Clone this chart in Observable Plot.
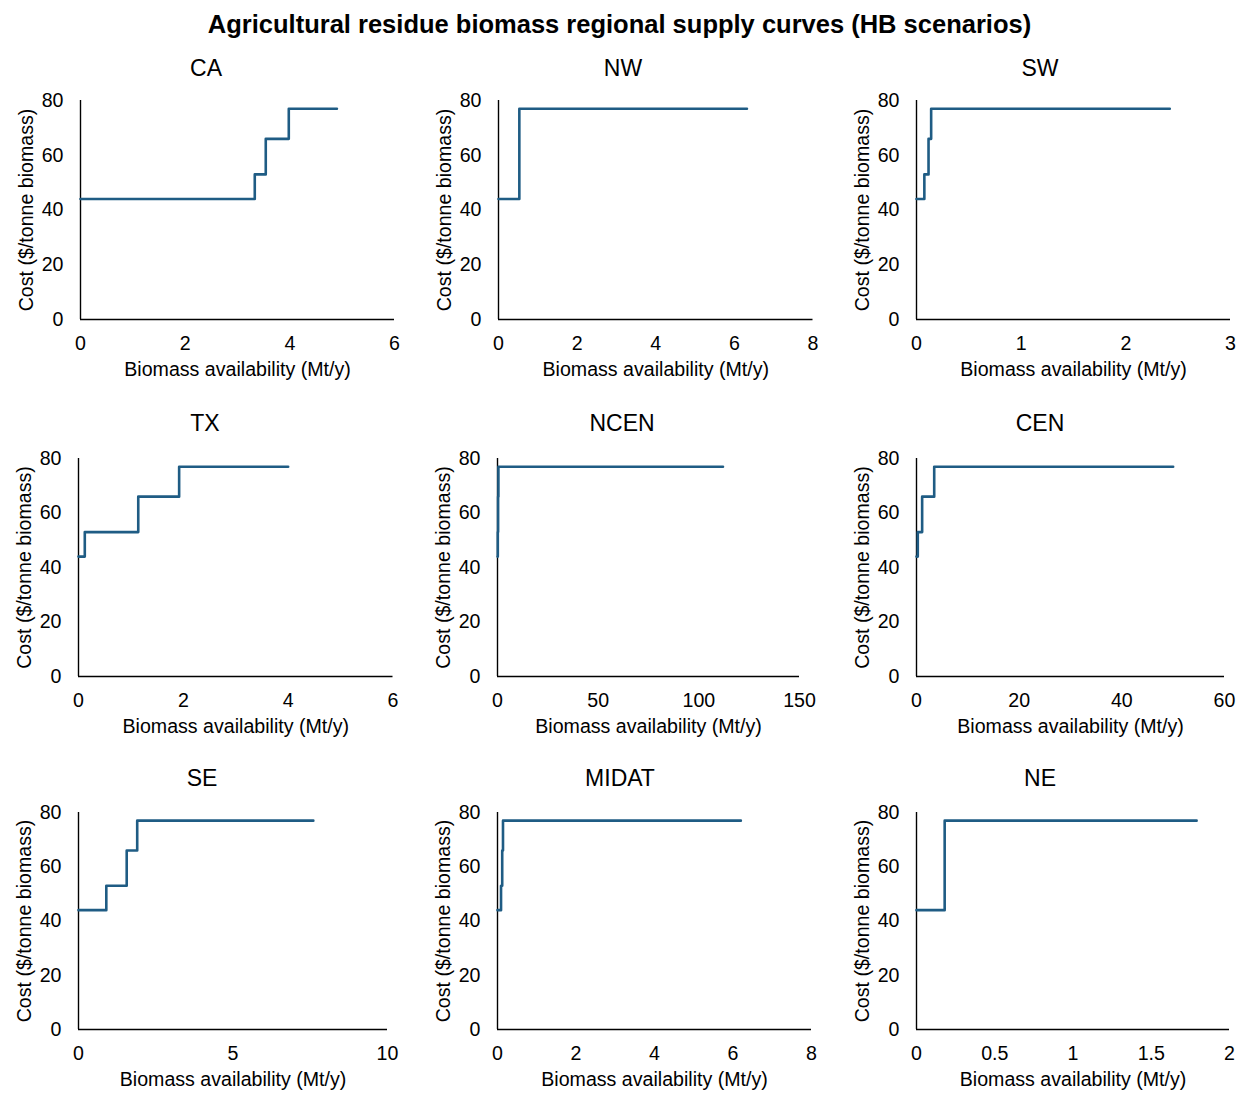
<!DOCTYPE html>
<html>
<head>
<meta charset="utf-8">
<script src="https://cdn.jsdelivr.net/npm/d3@7"></script>
<script src="https://cdn.jsdelivr.net/npm/@observablehq/plot@0.6"></script>
<style>
  body { margin: 0; background: #fff; }
  #page {
    position: relative; width: 1239px; height: 1094px; overflow: hidden; background: #fff;
    font-family: "Liberation Sans", Arial, Helvetica, sans-serif; color: #000;
  }
  .main-title {
    position: absolute; left: 0; width: 1239px; top: 25px; transform: translateY(-50%);
    text-align: center; font-weight: bold; font-size: 25.5px; line-height: 1;
  }
  .panel-title {
    position: absolute; font-size: 23px; line-height: 1; white-space: nowrap;
    transform: translate(-50%, -50%);
  }
  .panel { position: absolute; }
  .panel svg { overflow: visible; max-width: none !important; }
</style>
</head>
<body>
<div id="page">
  <div class="main-title">Agricultural residue biomass regional supply curves (HB scenarios)</div>
</div>
<script>
// Regions, in reading order of the 3 × 3 grid
const regions = ["CA", "NW", "SW", "TX", "NCEN", "CEN", "SE", "MIDAT", "NE"];

// Cumulative biomass availability (Mt/y) at the start of each cost step, plus the curve end
const availCA    = [0, 3.33, 3.54, 3.98, 4.9];
const availNW    = [0, 0.53, 6.32];
const availSW    = [0, 0.075, 0.115, 0.14, 2.42];
const availTX    = [0, 0.12, 1.14, 1.92, 4.0];
const availNCEN  = [0, 0.15, 0.3, 0.45, 112];
const availCEN   = [0, 0.25, 1.1, 3.45, 50];
const availSE    = [0, 0.9, 1.56, 1.9, 7.6];
const availMIDAT = [0, 0.09, 0.12, 0.14, 6.2];
const availNE    = [0, 0.18, 1.79];

// Cost ($/tonne biomass) of each step; the last value repeats to close the final step
const costCA    = [44, 53, 66, 77, 77];
const costNW    = [44, 77, 77];
const costSW    = [44, 53, 66, 77, 77];
const costTX    = [44, 53, 66, 77, 77];
const costNCEN  = [44, 53, 66, 77, 77];
const costCEN   = [44, 53, 66, 77, 77];
const costSE    = [44, 53, 66, 77, 77];
const costMIDAT = [44, 53, 66, 77, 77];
const costNE    = [44, 77, 77];

const avail = [availCA, availNW, availSW, availTX, availNCEN, availCEN, availSE, availMIDAT, availNE];
const cost  = [costCA, costNW, costSW, costTX, costNCEN, costCEN, costSE, costMIDAT, costNE];

// Axis ticks
const yTicks = [0, 20, 40, 60, 80];
const xTicks = [
  [0, 2, 4, 6],
  [0, 2, 4, 6, 8],
  [0, 1, 2, 3],
  [0, 2, 4, 6],
  [0, 50, 100, 150],
  [0, 20, 40, 60],
  [0, 5, 10],
  [0, 2, 4, 6, 8],
  [0, 0.5, 1, 1.5, 2]
];

// Plot frame of each panel on the page (px) and its title anchor
const frames = [
  {l: 80,    r: 394,   t: 100, b: 319,  tx: 206,  ty: 68},
  {l: 497.5, r: 812,   t: 100, b: 319,  tx: 623,  ty: 68},
  {l: 916,   r: 1230,  t: 100, b: 319,  tx: 1040, ty: 68},
  {l: 78,    r: 392.5, t: 458, b: 676,  tx: 205,  ty: 423},
  {l: 497,   r: 799,   t: 458, b: 676,  tx: 622,  ty: 423},
  {l: 916,   r: 1224,  t: 458, b: 676,  tx: 1040, ty: 423},
  {l: 78,    r: 387,   t: 812, b: 1029, tx: 202,  ty: 778},
  {l: 497,   r: 811,   t: 812, b: 1029, tx: 620,  ty: 778},
  {l: 916,   r: 1229,  t: 812, b: 1029, tx: 1040, ty: 778}
];

const M = {left: 80, right: 24, top: 12, bottom: 64};
const lineColor = "#1f5c84";
const fontFamily = '"Liberation Sans", Arial, Helvetica, sans-serif';
const fmt = d3.format("~g");
const page = document.getElementById("page");

regions.forEach((name, i) => {
  const f = frames[i];
  const w = f.r - f.l, h = f.b - f.t;
  const points = avail[i].map((x, k) => ({x, y: cost[i][k]}));
  const xMax = xTicks[i][xTicks[i].length - 1];
  const width = w + M.left + M.right;
  const height = h + M.top + M.bottom;

  const chart = Plot.plot({
    width, height,
    marginLeft: M.left, marginRight: M.right, marginTop: M.top, marginBottom: M.bottom,
    style: {fontFamily, fontSize: "19.6px", color: "#000", background: "transparent", overflow: "visible"},
    x: {domain: [0, xMax]},
    y: {domain: [0, 80]},
    marks: [
      Plot.axisY(yTicks, {
        tickSize: 0, tickPadding: 17,
        label: "Cost ($/tonne biomass)", labelAnchor: "center", labelOffset: 61, labelArrow: "none"
      }),
      Plot.axisX(xTicks[i], {
        tickSize: 0, tickPadding: 17, tickFormat: fmt,
        label: "Biomass availability (Mt/y)", labelAnchor: "center", labelOffset: 56, labelArrow: "none"
      }),
      Plot.ruleX([0], {stroke: "#000", strokeWidth: 1.4}),
      Plot.ruleY([0], {stroke: "#000", strokeWidth: 1.4}),
      Plot.line(points, {x: "x", y: "y", curve: "step-after", stroke: lineColor, strokeWidth: 2.6})
    ]
  });

  const holder = document.createElement("div");
  holder.className = "panel";
  holder.style.left = (f.l - M.left) + "px";
  holder.style.top = (f.t - M.top) + "px";
  holder.style.width = width + "px";
  holder.style.height = height + "px";
  holder.appendChild(chart);
  page.appendChild(holder);

  const title = document.createElement("div");
  title.className = "panel-title";
  title.style.left = f.tx + "px";
  title.style.top = f.ty + "px";
  title.textContent = name;
  page.appendChild(title);
});
</script>
</body>
</html>
